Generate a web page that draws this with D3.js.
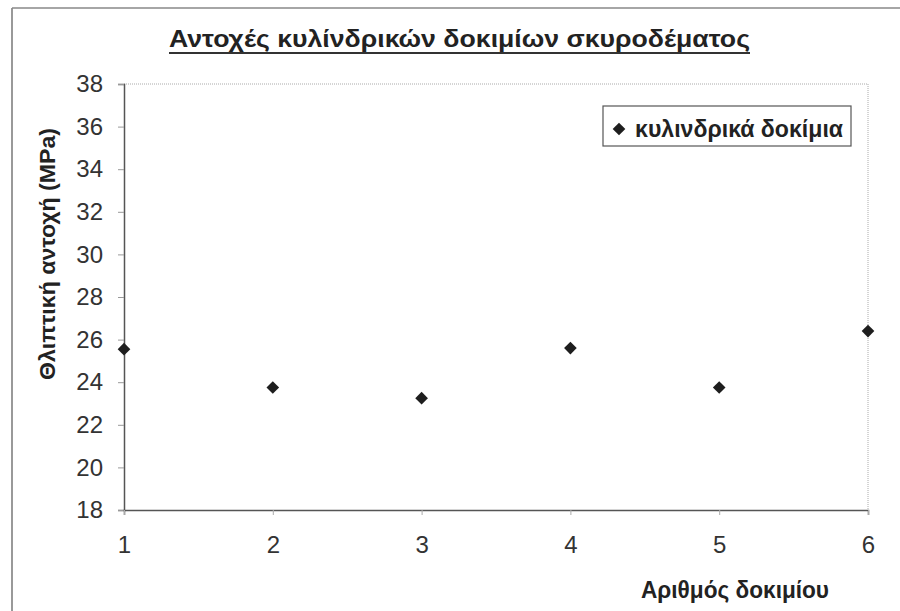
<!DOCTYPE html>
<html>
<head>
<meta charset="utf-8">
<script src="https://cdn.jsdelivr.net/npm/d3@7"></script>
<style>
  body { margin: 0; background: #fff; }
  svg { display: block; font-family: "Liberation Sans", Arial, sans-serif; }
</style>
</head>
<body>
<svg width="900" height="611"></svg>
<script>
// data
const specimens = [1, 2, 3, 4, 5, 6];
const strengths = [25.55, 23.75, 23.25, 25.6, 23.75, 26.4];
const xTicks = [1, 2, 3, 4, 5, 6];
const yTicks = [18, 20, 22, 24, 26, 28, 30, 32, 34, 36, 38];

const chartTitle = "Αντοχές κυλίνδρικών δοκιμίων σκυροδέματος";
const xTitle = "Αριθμός δοκιμίου";
const yTitle = "Θλιπτική αντοχή (MPa)";
const seriesName = "κυλινδρικά δοκίμια";

const svg = d3.select("svg");

const x = d3.scaleLinear().domain([1, 6]).range([124, 868]);
const y = d3.scaleLinear().domain([18, 38]).range([510, 84]);

// outer chart frame (only left and top edges visible)
svg.append("line")
  .attr("x1", 12).attr("y1", 8).attr("x2", 12).attr("y2", 611)
  .attr("stroke", "#777").attr("stroke-width", 1.5);
svg.append("line")
  .attr("x1", 12).attr("y1", 8).attr("x2", 900).attr("y2", 8)
  .attr("stroke", "#888").attr("stroke-width", 1.5);

// title with underline
svg.append("text")
  .attr("x", 169)
  .attr("y", 47)
  .attr("textLength", 581)
  .attr("lengthAdjust", "spacingAndGlyphs")
  .style("font-size", "23px")
  .style("font-weight", "bold")
  .style("fill", "#222")
  .text(chartTitle);
svg.append("line")
  .attr("x1", 169).attr("y1", 53).attr("x2", 750).attr("y2", 53)
  .attr("stroke", "#333").attr("stroke-width", 2);

// plot area dotted border (top + right)
svg.append("path")
  .attr("d", `M${x(1)},${y(38)}H${x(6)}V${y(18)}`)
  .attr("fill", "none")
  .attr("stroke", "#aaa")
  .attr("stroke-width", 1)
  .attr("stroke-dasharray", "1,1");

function styleTicks(g) {
  g.attr("font-size", 24).attr("font-family", null);
  g.selectAll(".tick text")
    .attr("fill", "#333");
}

// y axis
const yAxis = svg.append("g")
  .attr("transform", `translate(${x(1)},0)`)
  .call(d3.axisLeft(y).tickValues(yTicks).tickSize(6).tickPadding(15));
yAxis.select(".domain").attr("stroke", "#555").attr("stroke-width", 1.5);
yAxis.selectAll(".tick line").attr("stroke", "#999");
styleTicks(yAxis);

// x axis
const xAxis = svg.append("g")
  .attr("transform", `translate(0,${y(18)})`)
  .call(d3.axisBottom(x).tickValues(xTicks).tickFormat(d3.format("d")).tickSize(5).tickPadding(21));
xAxis.select(".domain").attr("stroke", "#555").attr("stroke-width", 1.5);
xAxis.selectAll(".tick line").attr("stroke", "#aaa");
styleTicks(xAxis);

// axis titles
svg.append("text")
  .attr("x", 641)
  .attr("y", 598)
  .attr("textLength", 188)
  .attr("lengthAdjust", "spacingAndGlyphs")
  .style("font-size", "23px")
  .style("font-weight", "bold")
  .style("fill", "#222")
  .text(xTitle);

svg.append("text")
  .attr("text-anchor", "middle")
  .attr("transform", "translate(55,254) rotate(-90)")
  .attr("textLength", 252)
  .attr("lengthAdjust", "spacingAndGlyphs")
  .style("font-size", "22px")
  .style("font-weight", "bold")
  .style("fill", "#222")
  .text(yTitle);

// markers
const diamond = d3.symbol().type(d3.symbolSquare).size(80);
svg.append("g")
  .selectAll("path")
  .data(specimens.map((s, i) => ({ s, v: strengths[i] })))
  .enter()
  .append("path")
  .attr("d", diamond)
  .attr("transform", d => `translate(${x(d.s)},${y(d.v)}) rotate(45)`)
  .attr("fill", "#1e1e1e");

// legend
const legend = svg.append("g");
legend.append("rect")
  .attr("x", 603).attr("y", 106)
  .attr("width", 248).attr("height", 40)
  .attr("fill", "#fff")
  .attr("stroke", "#555")
  .attr("stroke-width", 1.2);
legend.append("path")
  .attr("d", diamond)
  .attr("transform", "translate(619,129) rotate(45)")
  .attr("fill", "#1e1e1e");
legend.append("text")
  .attr("x", 635)
  .attr("y", 137)
  .attr("textLength", 208)
  .attr("lengthAdjust", "spacingAndGlyphs")
  .style("font-size", "24px")
  .style("font-weight", "bold")
  .style("fill", "#222")
  .text(seriesName);
</script>
</body>
</html>
